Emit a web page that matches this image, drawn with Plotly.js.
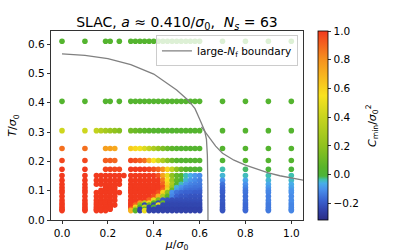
<!DOCTYPE html>
<html>
<head>
<meta charset="utf-8">
<script src="https://cdn.plot.ly/plotly-3.0.1.min.js"></script>
<style>html,body{margin:0;padding:0;background:#fff;}#chart{width:407px;height:252px;}</style>
</head>
<body>
<div id="chart"></div>
<script>
// ---- data ----
const muLeft  = [0.0, 0.1, 0.15, 0.17, 0.19, 0.21, 0.23, 0.25, 0.27];
const muBlock = [0.30, 0.32, 0.34, 0.36, 0.38, 0.40, 0.42, 0.44, 0.46, 0.48, 0.50, 0.52, 0.54, 0.56, 0.58, 0.60];
const muRight = [0.7, 0.8, 0.9, 1.0];

const tHigh = [0.61, 0.405, 0.305, 0.244, 0.203, 0.173];
const tLow  = [0.152, 0.1355, 0.122, 0.111, 0.1016, 0.0938, 0.0813, 0.0678, 0.0581, 0.0508, 0.0436, 0.0369, 0.032];

const cLeftHigh = [
  [0.03, 0.03, null, null, 0.03, 0.03, null, 0.03, null],
  [0.03, 0.03, null, null, 0.03, 0.03, null, 0.03, null],
  [0.42, 0.42, 0.38, 0.33, 0.28, 0.24, 0.20, 0.17, null],
  [0.88, 0.88, null, null, 0.76, 0.75, 0.73, null, null],
  [0.97, 0.97, null, null, 0.92, 0.92, 0.90, null, null],
  [1.00, 1.00, null, null, 0.98, 0.98, 0.97, 0.97, null]
];
const cBlockHigh = [
  [0.03,0.03,0.03,0.03,0.03,0.03,0.03,0.03,0.03,0.03,0.03,0.03,0.03,0.03,0.03,0.03],
  [0.03,0.03,0.03,0.03,0.03,0.03,0.03,0.03,0.03,0.03,0.03,0.03,0.03,0.03,0.03,0.03],
  [0.12,0.10,0.08,0.06,0.05,0.04,0.03,0.03,0.03,0.03,0.03,0.03,0.03,0.03,0.03,0.03],
  [0.62,0.58,0.53,0.46,0.38,0.30,0.22,0.15,0.10,0.06,0.04,0.03,0.03,0.03,0.03,0.03],
  [0.97,0.95,0.92,0.88,0.70,0.55,0.42,0.30,0.18,0.10,0.05,0.03,0.03,0.03,0.03,0.03],
  [1.00,1.00,1.00,1.00,0.98,0.95,0.90,0.80,0.60,0.38,0.20,0.10,0.05,0.03,0.02,0.00]
];
const cRightHigh = [
  [0.03, 0.03, 0.03, 0.03],
  [0.03, 0.03, 0.03, 0.03],
  [0.03, 0.03, 0.03, 0.03],
  [0.03, 0.03, 0.03, 0.03],
  [0.02, 0.03, 0.03, 0.03],
  [-0.035, -0.02, -0.01, -0.01]
];

const cLeftLow = [
  [1, 1, 1, 1, 1, 1, 1, 1, 1],
  [1, 1, 1, 1, 1, 1, 1, 1, null],
  [1, 1, 1, 1, 1, 1, 1, 1, null],
  [1, 1, null, null, 1, 1, 1, null, null],
  [1, 1, null, 1, 1, 1, 1, null, null],
  [1, 1, 1, 1, 1, 1, 1, 1, null],
  [1, 1, 1, 1, 1, 1, 1, null, null],
  [1, 1, 1, 1, 1, 1, 1, null, null],
  [1, 1, 1, 1, 1, 1, null, null, null],
  [1, 1, 1, null, 1, 1, 1, null, null],
  [1, 1, 1, 1, 1, 1, null, null, null],
  [1, 1, 1, null, 1, 1, null, null, null],
  [1, 1, 1, 1, 1, null, null, null, null]
];
const cBlockLow = [
  [1,1,1,1,1,1,0.95,0.75,0.50,0.20,0.08,0.03,-0.035,-0.06,-0.09,-0.11],
  [1,1,1,1,1,1,1,0.85,0.55,0.25,0.08,0.00,-0.05,-0.09,-0.11,-0.13],
  [1,1,1,1,1,1,1,0.90,0.60,0.30,0.05,-0.04,-0.09,-0.12,-0.13,-0.14],
  [1,1,1,1,1,1,1,0.95,0.65,0.25,-0.05,-0.10,-0.13,-0.14,-0.15,-0.15],
  [1,1,1,1,1,1,1,0.90,0.50,0.10,-0.08,-0.12,-0.15,-0.16,-0.16,-0.17],
  [1,1,1,1,1,1,0.95,0.60,0.20,-0.10,-0.15,-0.17,-0.18,-0.18,-0.19,-0.19],
  [1,1,1,1,1,0.95,0.70,0.30,0.05,-0.12,-0.18,-0.20,-0.20,-0.21,-0.21,-0.21],
  [1,1,1,1,0.90,0.50,0.15,-0.20,-0.21,-0.22,-0.22,-0.22,-0.22,-0.22,-0.22,-0.22],
  [1,1,0.80,0.35,0.60,0.05,-0.23,0.10,-0.23,-0.23,-0.23,-0.23,-0.23,-0.23,-0.23,-0.23],
  [1,0.90,0.20,-0.24,0.10,-0.24,0.50,-0.24,-0.24,-0.24,-0.24,-0.24,-0.24,-0.24,-0.24,-0.24],
  [1,0.60,0.05,0.40,-0.24,0.03,-0.24,-0.24,-0.24,-0.24,-0.24,-0.24,-0.24,-0.24,-0.24,-0.24],
  [0.90,0.30,-0.25,0.03,-0.25,-0.25,-0.25,-0.25,-0.25,-0.25,-0.25,-0.25,-0.25,-0.25,-0.25,-0.25],
  [0.70,0.05,-0.25,0.50,-0.25,-0.25,-0.25,-0.25,-0.25,-0.25,-0.25,-0.25,-0.25,-0.25,-0.25,-0.25]
];
const cRightLow = [
  [-0.05, -0.04, -0.035, -0.035],
  [-0.10, -0.07, -0.05, -0.045],
  [-0.15, -0.10, -0.07, -0.06],
  [-0.17, -0.12, -0.09, -0.075],
  [-0.18, -0.14, -0.11, -0.09],
  [-0.19, -0.15, -0.12, -0.10],
  [-0.20, -0.16, -0.13, -0.11],
  [-0.20, -0.16, -0.13, -0.11],
  [-0.20, -0.16, -0.13, -0.11],
  [-0.21, -0.17, -0.14, -0.12],
  [-0.21, -0.17, -0.14, -0.12],
  [-0.21, -0.17, -0.14, -0.12],
  [-0.21, -0.17, -0.14, -0.12]
];

// large-N_f boundary
const boundInnerMu = [0.0, 0.1, 0.2, 0.3, 0.4, 0.5, 0.55, 0.58, 0.6, 0.61, 0.622, 0.63, 0.634, 0.636, 0.6366];
const boundInnerT  = [0.567, 0.562, 0.551, 0.530, 0.498, 0.444, 0.409, 0.380, 0.345, 0.325, 0.305, 0.275, 0.22, 0.12, 0.0];
const boundOuterMu = [0.608, 0.62, 0.64, 0.67, 0.7, 0.75, 0.8, 0.85, 0.9, 0.95, 1.0, 1.06];
const boundOuterT  = [0.318, 0.305, 0.283, 0.252, 0.228, 0.204, 0.187, 0.173, 0.161, 0.151, 0.143, 0.135];

const cbTicks = [-0.2, 0.0, 0.2, 0.4, 0.6, 0.8, 1.0];
const xTicks = [0.0, 0.2, 0.4, 0.6, 0.8, 1.0];
const yTicks = [0.0, 0.1, 0.2, 0.3, 0.4, 0.5, 0.6];

// ---- build points ----
const px = [], py = [], pc = [];
function addGrid(mus, ts, grid) {
  for (let i = 0; i < ts.length; i++) {
    for (let j = 0; j < mus.length; j++) {
      const v = grid[i][j];
      if (v === null) continue;
      px.push(mus[j]); py.push(ts[i]); pc.push(v);
    }
  }
}
addGrid(muLeft, tHigh, cLeftHigh);
addGrid(muBlock, tHigh, cBlockHigh);
addGrid(muRight, tHigh, cRightHigh);
addGrid(muLeft, tLow, cLeftLow);
addGrid(muBlock, tLow, cBlockLow);
addGrid(muRight, tLow, cRightLow);

const cmin = -0.316, cmax = 1.0;
function p(v) { return (v - cmin) / (cmax - cmin); }
const colorscale = [
  [0, '#2c2d84'],
  [p(-0.25), '#3142aa'],
  [p(-0.18), '#3a62d0'],
  [p(-0.10), '#4a92ec'],
  [p(-0.06), '#48aee8'],
  [p(-0.035), '#40c0b0'],
  [p(-0.01), '#4cb43a'],
  [p(0.05), '#58b42a'],
  [p(0.2), '#90c21e'],
  [p(0.4), '#c8d41e'],
  [p(0.55), '#f8e21e'],
  [p(0.8), '#f6921e'],
  [1, '#f23a1e']
];

const lineMu = boundInnerMu.concat([null], boundOuterMu);
const lineT = boundInnerT.concat([null], boundOuterT);

const FONT = 'DejaVu Sans, sans-serif';

const traces = [
  {
    type: 'scatter', mode: 'markers', x: px, y: py, showlegend: false, hoverinfo: 'skip',
    marker: {
      size: 5.6, color: pc, colorscale: colorscale, cmin: cmin, cmax: cmax,
      line: {width: 0},
      colorbar: {
        x: 1.059, xanchor: 'left', xref: 'paper', y: 0.5, yanchor: 'middle',
        len: 1, lenmode: 'fraction', thickness: 10, thicknessmode: 'pixels',
        outlinewidth: 0.8, outlinecolor: '#000', xpad: 0, ypad: 0,
        ticks: 'outside', ticklen: 3.5, tickwidth: 0.8, tickcolor: '#000',
        tickvals: cbTicks, tickformat: '.1f', tickfont: {family: FONT, size: 10.5, color: '#000'}
      }
    }
  },
  {
    type: 'scatter', mode: 'lines', x: lineMu, y: lineT, connectgaps: false,
    name: 'large-<i>N</i><sub>f</sub> boundary', hoverinfo: 'skip',
    line: {color: '#808080', width: 1.3}
  }
];

const axisCommon = {
  showline: true, mirror: true, linecolor: '#000', linewidth: 0.8,
  ticks: 'outside', ticklen: 3.5, tickwidth: 0.8, tickcolor: '#000',
  showgrid: false, zeroline: false, tickformat: '.1f',
  tickfont: {family: FONT, size: 10.5, color: '#000'}
};

const layout = {
  width: 407, height: 252,
  margin: {l: 50.7, r: 103.7, t: 30.7, b: 32, pad: 0},
  paper_bgcolor: '#fff', plot_bgcolor: '#fff',
  font: {family: FONT, size: 10.5, color: '#000'},
  title: {
    text: 'SLAC, <i>a</i> ≈ 0.410/<i>σ</i><sub>0</sub>,\u00a0 <i>N<sub>s</sub></i> = 63',
    font: {family: FONT, size: 14, color: '#000'},
    xref: 'paper', x: 0.5, xanchor: 'center',
    yref: 'container', y: 0.912, yanchor: 'middle'
  },
  xaxis: Object.assign({}, axisCommon, {
    range: [-0.048, 1.051], tickvals: xTicks,
    title: {text: '<i>μ</i>/<i>σ</i><sub>0</sub>', standoff: 3, font: {family: FONT, size: 11, color: '#000'}}
  }),
  yaxis: Object.assign({}, axisCommon, {
    range: [0, 0.645], tickvals: yTicks,
    title: {text: '<i>T</i>/<i>σ</i><sub>0</sub>', standoff: 8, font: {family: FONT, size: 11, color: '#000'}}
  }),
  legend: {
    x: 0.98, xanchor: 'right', y: 0.977, yanchor: 'top',
    bgcolor: 'rgba(255,255,255,0.8)', bordercolor: '#cccccc', borderwidth: 1,
    font: {family: FONT, size: 10.5, color: '#000'}
  },
  annotations: [{
    text: '<i>C</i><sub>min</sub>/<i>σ</i><sub>0</sub><sup>2</sup>',
    xref: 'paper', yref: 'paper', x: 1.272, y: 0.5, xanchor: 'center', yanchor: 'middle',
    textangle: -90, showarrow: false, font: {family: FONT, size: 11, color: '#000'}
  }],
  showlegend: true
};

Plotly.newPlot('chart', traces, layout, {staticPlot: true, displayModeBar: false});
</script>
</body>
</html>
